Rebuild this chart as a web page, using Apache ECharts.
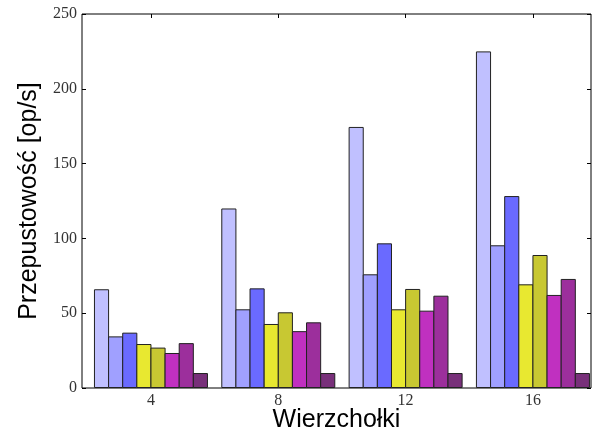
<!DOCTYPE html>
<html><head><meta charset="utf-8">
<script src="https://cdn.jsdelivr.net/npm/echarts@6/dist/echarts.min.js"></script>
<style>html,body{margin:0;padding:0;background:#fff}#c{width:601px;height:433px}</style>
</head><body><div id="c"></div>
<script>
const categories = ['4', '8', '12', '16'];
const yTicks = [0, 50, 100, 150, 200, 250];
const s1 = [66, 120, 174.5, 225];
const s2 = [34.5, 52.6, 76, 95.4];
const s3 = [37, 66.6, 96.7, 128.3];
const s4 = [29.4, 42.8, 52.6, 69.3];
const s5 = [27, 50.6, 66.2, 88.9];
const s6 = [23.4, 38, 51.7, 62.2];
const s7 = [30, 43.9, 61.7, 72.9];
const s8 = [10, 10, 10, 10];
const seriesValues = [s1, s2, s3, s4, s5, s6, s7, s8];
const colors = ['#c0c0ff', '#a0a0ff', '#6a6aff', '#e8e830', '#c8c832', '#c030c0', '#9c2f9c', '#78307a'];

const chart = echarts.init(document.getElementById('c'), null, {renderer: 'canvas'});
const serifFont = 'Liberation Serif';
const sansFont = 'Liberation Sans';
chart.setOption({
  animation: false,
  grid: [
    {left: 82, top: 14, width: 509, height: 374, show: true, borderColor: '#000', borderWidth: 1,
     containLabel: false, outerBoundsMode: 'none'},
    {left: 87.3, top: 14, width: 509.3, height: 374, containLabel: false, outerBoundsMode: 'none'}
  ],
  xAxis: [
    {gridIndex: 0, type: 'value', min: 0, max: 1, show: true, position: 'bottom',
     axisLine: {show: false}, axisTick: {show: false}, axisLabel: {show: false}, splitLine: {show: false},
     name: 'Wierzchołki', nameLocation: 'middle', nameGap: 20,
     nameTextStyle: {fontFamily: sansFont, fontSize: 25, color: '#000'}},
    {gridIndex: 1, type: 'category', data: categories, position: 'bottom',
     axisLine: {show: false}, splitLine: {show: false},
     axisTick: {show: true, inside: true, alignWithLabel: true, length: 4, lineStyle: {color: '#000'}},
     axisLabel: {fontFamily: serifFont, fontSize: 16, color: '#333', margin: 5}},
    {gridIndex: 1, type: 'category', data: categories, position: 'top',
     axisLine: {show: false}, splitLine: {show: false},
     axisTick: {show: true, inside: true, alignWithLabel: true, length: 4, lineStyle: {color: '#000'}},
     axisLabel: {show: false}}
  ],
  yAxis: [
    {gridIndex: 0, type: 'value', min: 0, max: 250, interval: 50, position: 'left',
     axisLine: {show: false}, splitLine: {show: false},
     axisTick: {show: true, inside: true, length: 4, lineStyle: {color: '#000'}},
     axisLabel: {fontFamily: serifFont, fontSize: 16, color: '#333', margin: 5,
                 formatter: v => yTicks.includes(v) ? String(v) : ''},
     name: 'Przepustowość [op/s]', nameLocation: 'middle', nameGap: 33,
     nameTextStyle: {fontFamily: sansFont, fontSize: 25, color: '#000'}},
    {gridIndex: 0, type: 'value', min: 0, max: 250, interval: 50, position: 'right',
     axisLine: {show: false}, splitLine: {show: false}, axisLabel: {show: false},
     axisTick: {show: true, inside: true, length: 4, lineStyle: {color: '#000'}}},
    {gridIndex: 1, type: 'value', min: 0, max: 250, show: false}
  ],
  series: seriesValues.map((vals, i) => ({
    type: 'bar', xAxisIndex: 1, yAxisIndex: 2, data: vals,
    barWidth: 15.125, barGap: '-6.61%',
    itemStyle: {color: colors[i], borderColor: '#222', borderWidth: 1}
  }))
});
</script></body></html>
